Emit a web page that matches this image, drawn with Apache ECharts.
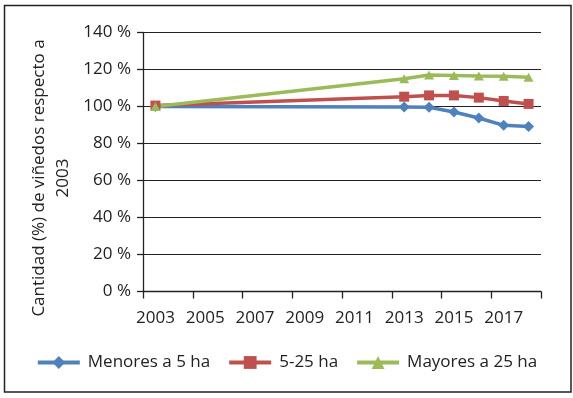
<!DOCTYPE html>
<html>
<head>
<meta charset="utf-8">
<script src="https://cdn.jsdelivr.net/npm/echarts@6/dist/echarts.min.js"></script>
<style>
  html, body { margin: 0; padding: 0; background: #fff; }
  #chart { width: 573px; height: 398px; }
</style>
</head>
<body>
<div id="chart"></div>
<script>
const years = ['2003','2004','2005','2006','2007','2008','2009','2010','2011','2012','2013','2014','2015','2016','2017','2018'];
const menores5 = [100, null, null, null, null, null, null, null, null, null, 99.7, 99.6, 97, 93.8, 89.8, 89.2];
const de5a25 = [100.5, null, null, null, null, null, null, null, null, null, 105.3, 106, 106, 104.8, 103, 101.4];
const mayores25 = [100, null, null, null, null, null, null, null, null, null, 115, 117, 116.8, 116.5, 116.4, 115.8];
const seriesNames = ['Menores a 5 ha', '5-25 ha', 'Mayores a 25 ha'];
const yTitle = 'Cantidad (%) de viñedos respecto a\n2003';

const FONT = '"Open Sans", "Noto Sans", sans-serif';
const TXT = '#222222';
const colors = ['#4F81BD', '#C0504D', '#9BBB59'];

const chart = echarts.init(document.getElementById('chart'), null, { renderer: 'canvas' });

function lineSeries(name, data, color, symbol, size) {
  return {
    name: name,
    type: 'line',
    data: data,
    connectNulls: true,
    symbol: symbol,
    symbolSize: size,
    showSymbol: true,
    showAllSymbol: true,
    lineStyle: { color: color, width: 3.5 },
    itemStyle: { color: color, borderWidth: 0 },
    emphasis: { disabled: true },
    animation: false
  };
}

chart.setOption({
  animation: false,
  textStyle: { fontFamily: FONT, color: TXT },
  grid: { left: 143, right: 32, top: 32.5, bottom: 106.5, containLabel: false },
  legend: {
    bottom: 22,
    left: 'center',
    itemWidth: 42,
    itemHeight: 16,
    itemGap: 17,
    lineStyle: { width: 4 },
    textStyle: { fontFamily: FONT, fontSize: 17, color: TXT, padding: [0, 0, 0, 3] },
    data: seriesNames
  },
  xAxis: {
    type: 'category',
    data: years,
    boundaryGap: true,
    axisLine: { show: true, lineStyle: { color: '#222', width: 1.3 } },
    axisTick: { show: true, inside: false, length: 7, interval: 1, alignWithLabel: false, lineStyle: { color: '#222', width: 1.3 } },
    axisLabel: { interval: 1, margin: 18, fontSize: 17, color: TXT, fontFamily: FONT },
    splitLine: { show: false }
  },
  yAxis: {
    type: 'value',
    min: 0,
    max: 140,
    interval: 20,
    axisLine: { show: true, lineStyle: { color: '#222', width: 1.3 } },
    axisTick: { show: true, inside: false, length: 6, lineStyle: { color: '#222', width: 1.3 } },
    axisLabel: { formatter: '{value} %', margin: 12, fontSize: 17, color: TXT, fontFamily: FONT },
    splitLine: { show: true, lineStyle: { color: '#222', width: 1.2 } }
  },
  graphic: [
    {
      type: 'rect',
      shape: { x: 4.5, y: 5.5, width: 566.5, height: 386.5 },
      style: { fill: 'none', stroke: '#222', lineWidth: 1.5 },
      silent: true,
      z: -1
    },
    {
      type: 'text',
      x: 51,
      y: 178,
      rotation: Math.PI / 2,
      style: {
        text: yTitle,
        fontFamily: FONT,
        fontSize: 17,
        lineHeight: 24,
        fill: TXT,
        align: 'center',
        verticalAlign: 'middle'
      },
      silent: true
    }
  ],
  series: [
    lineSeries(seriesNames[0], menores5, colors[0], 'diamond', 11),
    lineSeries(seriesNames[1], de5a25, colors[1], 'rect', 10),
    lineSeries(seriesNames[2], mayores25, colors[2], 'triangle', [10, 9])
  ]
});
</script>
</body>
</html>
